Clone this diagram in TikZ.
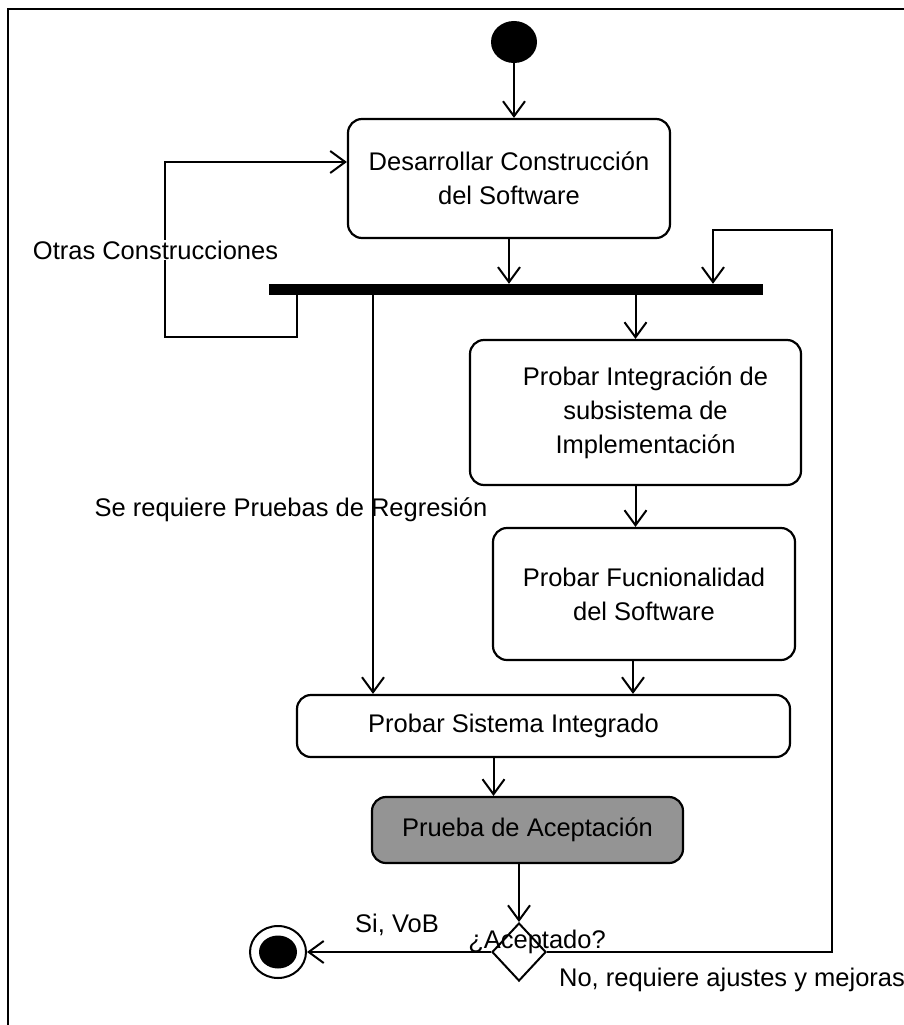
\documentclass[tikz,border=0pt]{standalone}
\usepackage{fontspec}
\setmainfont{Liberation Sans}
\usetikzlibrary{arrows.meta,shapes.geometric}
\begin{document}
\begin{tikzpicture}[x=1pt,y=-1pt,
  every node/.style={font=\fontsize{25.5}{34}\selectfont},
  act/.style={draw, line width=2.2pt, rounded corners=14pt, align=center, inner sep=0pt},
  flow/.style={line width=2pt, -{Straight Barb[length=15pt,width=22pt,line width=2pt]}},
  lbl/.style={inner sep=1pt}]
\useasboundingbox (0,0) rectangle (904,1025);
% page frame
\draw[line width=2.5pt] (8,1025) -- (8,9) -- (904,9);

% activities
\node[ellipse, fill=black, minimum width=46pt, minimum height=42pt, inner sep=0pt] (start) at (514,42) {};
\node[act, minimum width=322pt, minimum height=119pt] (build) at (509,178.5) {Desarrollar Construcción\\del Software};
\node[fill=black, minimum width=494pt, minimum height=11pt, inner sep=0pt] (bar) at (516,289.5) {};
\node[act, minimum width=331pt, minimum height=145pt] (integ) at (635.5,412.5) {\hspace*{20pt}Probar Integración de\\\hspace*{20pt}subsistema de\\\hspace*{20pt}Implementación};
\node[act, minimum width=302pt, minimum height=132pt] (func) at (644,594) {Probar Fucnionalidad\\del Software};
\node[act, minimum width=493pt, minimum height=62pt] (sys) at (543.5,726) {Probar Sistema Integrado\hspace*{60pt}};
\node[act, fill=black!42, minimum width=311pt, minimum height=66pt] (accept) at (527.5,830) {Prueba de Aceptación};
\node[diamond, draw, line width=2pt, minimum width=54pt, minimum height=58pt, inner sep=0pt] (dec) at (519,952) {};
\node[ellipse, draw, line width=2pt, minimum width=56pt, minimum height=52pt, inner sep=0pt] (stop) at (278,952) {};
\node[ellipse, fill=black, minimum width=38pt, minimum height=33pt, inner sep=0pt] (stopdot) at (stop) {};

% helper points on the bar and boxes
\coordinate (loopout) at ([xshift=-219pt]bar.south);
\coordinate (loopcorner) at (165,337);
\coordinate (loopin) at ([yshift=16.5pt]build.west);
\coordinate (regout) at ([xshift=-143pt]bar.south);
\coordinate (noin) at ([xshift=197pt]bar.north);
\coordinate (noturn) at (832,230);
\coordinate (sysout) at ([xshift=-50pt]sys.south);
\coordinate (funcout) at ([xshift=-11pt]func.south);

% flows
\draw[flow] (start) -- (start |- build.north);
\draw[flow] (build.south) -- (build.south |- bar.north);
\draw[flow] (bar.south -| integ.north) -- (integ.north);
\draw[flow] (integ.south) -- (integ.south |- func.north);
\draw[flow] (funcout) -- (funcout |- sys.north);
\draw[flow] (regout) -- (regout |- sys.north);
\draw[flow] (sysout) -- (sysout |- accept.north);
\draw[flow] (accept.south -| dec.north) -- (dec.north);
\draw[flow] (loopout) |- (loopcorner) |- (loopin);
\draw[flow] (dec.west) -- (stop);
\draw[flow] (dec.east) -| (noturn) -| (noin);

% guard labels
\node[lbl, fill=white] (otras) at (155.5,250) {Otras Construcciones};
\node[lbl] (reglbl) at (291,510) {Se requiere Pruebas de Regresión};
\node[lbl] (yeslbl) at (397,925) {Si, VoB};
\node[lbl] (qlbl) at (537,942) {¿Aceptado?};
\node[lbl] (nolbl) at (732,980) {No, requiere ajustes y mejoras};
\end{tikzpicture}
\end{document}
